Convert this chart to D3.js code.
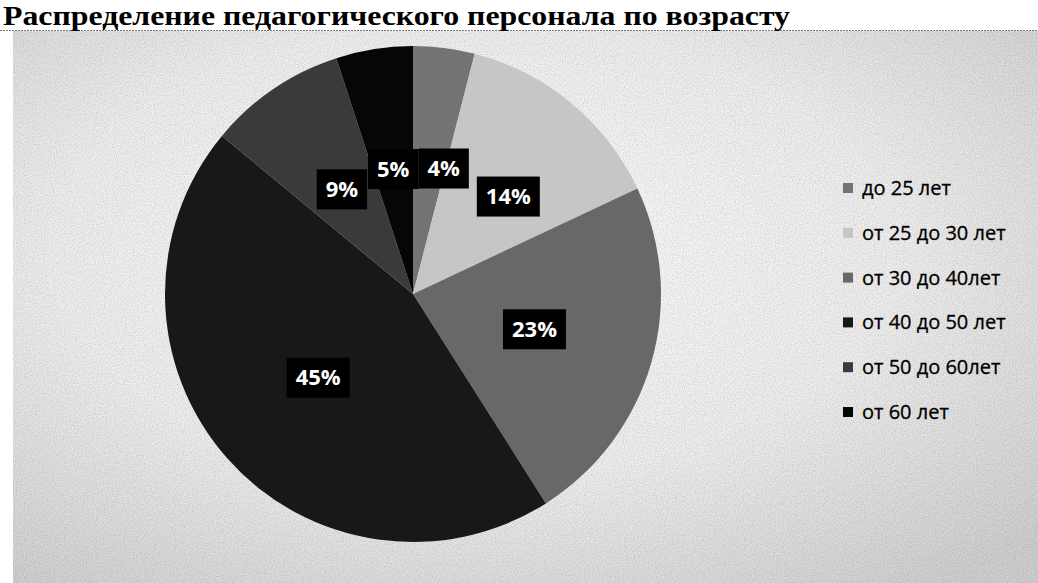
<!DOCTYPE html>
<html><head><meta charset="utf-8">
<script src="https://cdn.jsdelivr.net/npm/d3@7/dist/d3.min.js"></script>
<style>html,body{margin:0;padding:0;background:#fff;}svg{display:block;}</style>
</head><body>
<svg id="chart" width="1038" height="583"></svg>
<script>
const title = "Распределение педагогического персонала по возрасту";
const categories = ["до 25 лет", "от 25 до 30 лет", "от 30 до  40лет", "от 40 до 50 лет", "от 50 до 60лет", "от 60 лет"];
const values = [4, 14, 23, 45, 9, 5];
const colors = ["#747474", "#c6c6c6", "#686868", "#181818", "#3a3a3a", "#060606"];

const svg = d3.select("#chart");
const W = 1038, H = 583;

const defs = svg.append("defs");
const grad = defs.append("radialGradient").attr("id", "bg").attr("cx", "45%").attr("cy", "40%").attr("r", "75%");
grad.append("stop").attr("offset", "0%").attr("stop-color", "#fbfbfb");
grad.append("stop").attr("offset", "55%").attr("stop-color", "#efefef");
grad.append("stop").attr("offset", "100%").attr("stop-color", "#d0d0d0");

const filt = defs.append("filter").attr("id", "noise").attr("x", 0).attr("y", 0).attr("width", "100%").attr("height", "100%");
filt.append("feTurbulence").attr("type", "fractalNoise").attr("baseFrequency", 0.9).attr("numOctaves", 1).attr("result", "n");
filt.append("feColorMatrix").attr("type", "matrix")
  .attr("values", "0 0 0 0 0  0 0 0 0 0  0 0 0 0 0  0 0 0 -1.2 0.75");

const areaTop = 31;
svg.append("rect").attr("width", W).attr("height", H).attr("fill", "#fff");
svg.append("rect").attr("x", 13).attr("y", areaTop).attr("width", W - 13).attr("height", H - areaTop).attr("fill", "url(#bg)");
svg.append("rect").attr("x", 13).attr("y", areaTop).attr("width", W - 13).attr("height", H - areaTop)
  .attr("filter", "url(#noise)").attr("opacity", 0.25);

// dashed line under title
svg.append("line").attr("x1", 0).attr("x2", W).attr("y1", areaTop - 0.5).attr("y2", areaTop - 0.5)
  .attr("stroke", "#777").attr("stroke-width", 1).attr("stroke-dasharray", "2,1");

svg.append("text").attr("x", 3).attr("y", 25)
  .attr("font-family", "'Liberation Serif','DejaVu Serif',serif").attr("font-weight", "bold")
  .attr("font-size", 27).attr("fill", "#000")
  .attr("textLength", 787).attr("lengthAdjust", "spacingAndGlyphs")
  .text(title);

const cx = 413, cy = 294, R = 248;
const data = categories.map((c, i) => ({ cat: c, value: values[i], color: colors[i] }));
const pie = d3.pie().value(d => d.value).sort(null);
const arcs = pie(data);
const arc = d3.arc().innerRadius(0).outerRadius(R);
const labelArc = d3.arc().innerRadius(R * 0.51).outerRadius(R * 0.51);

const g = svg.append("g").attr("transform", `translate(${cx},${cy})`);
g.selectAll("path.slice").data(arcs).enter().append("path").attr("class", "slice")
  .attr("d", arc).attr("fill", d => d.data.color);

// labels
const total = d3.sum(values);
const labels = arcs.map(a => {
  const [x, y] = labelArc.centroid(a);
  return { a, x, y, text: Math.round(a.data.value / total * 100) + "%" };
});
const lg = g.append("g");
const items = lg.selectAll("g").data(labels).enter().append("g");
items.each(function(d) {
  const t = d3.select(this).append("text").attr("text-anchor", "middle")
    .attr("font-family", "'Open Sans',sans-serif").attr("font-weight", "bold").attr("font-size", 22)
    .attr("fill", "#fff").attr("dy", "0.35em").text(d.text);
  d.w = t.node().getComputedTextLength() + 18;
  d.h = 40;
});
// overlap resolution: push the smaller label sideways away from a larger one,
// then push any remaining overlapped larger label away from the moved one
function overlap(A, B) {
  return [(A.w + B.w) / 2 - Math.abs(A.x - B.x), (A.h + B.h) / 2 - Math.abs(A.y - B.y)];
}
for (let i = 0; i < labels.length; i++) {
  for (let j = 0; j < labels.length; j++) {
    if (i === j) continue;
    const A = labels[i], B = labels[j];
    const [ox, oy] = overlap(A, B);
    if (ox > 0 && oy > 0 && A.a.data.value < B.a.data.value) A.x += (A.x >= B.x ? 1 : -1) * ox;
  }
}
for (let i = 0; i < labels.length; i++) {
  for (let j = 0; j < labels.length; j++) {
    if (i === j) continue;
    const A = labels[i], B = labels[j];
    const [ox, oy] = overlap(A, B);
    if (ox > 0 && oy > 0 && A.a.data.value > B.a.data.value) A.x += (A.x >= B.x ? 1 : -1) * (ox + 8);
  }
}
items.attr("transform", d => `translate(${d.x},${d.y})`);
items.insert("rect", "text").attr("x", d => -d.w / 2).attr("y", d => -d.h / 2)
  .attr("width", d => d.w).attr("height", d => d.h).attr("fill", "#000");

// legend
const legend = svg.append("g").attr("transform", "translate(843,188)");
const li = legend.selectAll("g").data(data).enter().append("g")
  .attr("transform", (d, i) => `translate(0,${i * 44.8})`);
li.append("rect").attr("x", 0).attr("y", -5).attr("width", 10).attr("height", 10).attr("fill", d => d.color);
li.append("text").attr("x", 19).attr("dy", "0.35em")
  .attr("font-family", "'Open Sans',sans-serif").attr("font-size", 20).attr("fill", "#000")
  .attr("stroke", "#000").attr("stroke-width", 0.3)
  .text(d => d.cat);
</script>
</body></html>
